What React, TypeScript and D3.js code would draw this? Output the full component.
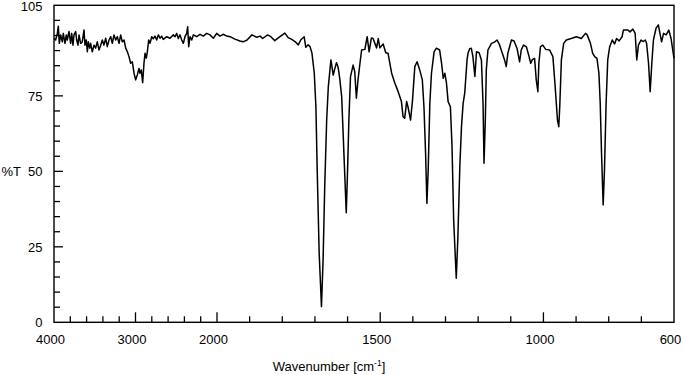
import React from "react";
import * as d3 from "d3";

// ---- Data: [wavenumber (cm-1), %T] ----
const stretchRegion: [number, number][] = [
  [4000, 94.0], [3980, 93.5], [3959, 95.7], [3947, 98.1], [3935, 92.4], [3918, 95.2], [3898, 92.9], [3886, 95.7],
  [3865, 92.4], [3849, 95.2], [3837, 93.5], [3816, 96.3], [3796, 92.4], [3783, 95.7], [3767, 91.8], [3755, 95.2],
  [3734, 96.3], [3722, 93.5], [3706, 91.8], [3693, 95.2], [3673, 92.4], [3653, 92.9], [3632, 96.8], [3620, 91.8],
  [3604, 93.5], [3591, 89.6], [3579, 92.9], [3562, 90.8], [3550, 92.4], [3530, 89.6], [3509, 91.8], [3489, 90.8],
  [3469, 92.9], [3448, 90.2], [3427, 91.8], [3407, 93.5], [3387, 91.8], [3366, 94.1], [3346, 91.3], [3325, 93.5],
  [3304, 94.6], [3284, 92.4], [3264, 95.2], [3243, 93.5], [3223, 94.6], [3202, 92.4], [3182, 95.2], [3162, 92.9],
  [3141, 93.5], [3120, 90.8], [3100, 89.6], [3080, 88.0], [3059, 85.8], [3039, 86.3], [3018, 82.5], [2998, 80.3],
  [2978, 81.9], [2957, 84.1], [2945, 82.5], [2929, 83.6], [2912, 79.4], [2896, 85.8], [2883, 89.1], [2867, 87.5],
  [2855, 89.6], [2838, 93.5], [2822, 92.4], [2801, 94.6], [2782, 93.9], [2761, 94.8], [2740, 93.5], [2720, 95.2],
  [2699, 94.1], [2679, 94.8], [2659, 93.7], [2617, 94.6], [2577, 94.1], [2536, 95.2], [2515, 94.6], [2494, 95.7],
  [2475, 94.0], [2454, 95.2], [2433, 93.5], [2413, 92.4], [2393, 94.6], [2372, 95.7], [2360, 97.9], [2347, 91.3],
  [2331, 94.6], [2310, 93.5], [2290, 95.2], [2249, 94.6], [2208, 95.4], [2168, 94.8], [2127, 95.7], [2086, 95.2],
  [2045, 94.1], [2004, 95.7],
];

const carbonylRegion: [number, number][] = [
  [1991, 94.8], [1981, 95.4], [1970, 94.8], [1960, 94.6], [1945, 93.8], [1930, 93.2], [1920, 92.9], [1908, 93.5],
  [1893, 95.2], [1878, 94.4], [1868, 94.8], [1860, 94.0], [1845, 95.2], [1835, 94.6], [1823, 93.3], [1807, 94.6],
  [1792, 95.8], [1782, 94.3], [1771, 93.7], [1761, 93.0], [1751, 91.9], [1743, 93.6], [1733, 94.6], [1728, 91.1],
  [1721, 91.9], [1715, 91.3], [1709, 89.1], [1702, 82.5], [1697, 71.4], [1693, 50.4], [1687, 22.9], [1680, 5.2],
  [1675, 20.6], [1670, 44.9], [1664, 67.0], [1659, 78.0], [1654, 83.6], [1651, 86.9], [1644, 81.9], [1640, 83.6],
  [1634, 86.0], [1629, 84.5], [1624, 80.8], [1618, 74.7], [1614, 63.7], [1608, 47.1], [1604, 36.3], [1600, 50.4],
  [1596, 67.0], [1591, 81.4], [1583, 85.2], [1578, 83.0], [1573, 74.2], [1568, 80.3], [1562, 85.8], [1557, 90.2],
  [1547, 90.4], [1540, 94.6], [1534, 89.6], [1527, 94.2], [1522, 94.0], [1511, 90.9], [1506, 94.0], [1501, 90.9],
];

const fingerprintRegion: [number, number][] = [
  [1491, 92.2], [1483, 89.3], [1476, 89.1], [1465, 82.5], [1455, 79.2], [1445, 76.4], [1435, 73.1], [1430, 68.1],
  [1425, 67.6], [1419, 73.1], [1415, 71.4], [1407, 67.0], [1401, 73.6], [1394, 84.7], [1387, 86.3], [1379, 83.6],
  [1371, 80.3], [1366, 71.4], [1361, 56.0], [1357, 39.4], [1353, 50.4], [1348, 72.5], [1343, 82.5], [1335, 89.6],
  [1328, 90.8], [1318, 90.2], [1312, 85.8], [1307, 80.8], [1302, 82.5], [1297, 79.2], [1292, 73.1], [1285, 71.4],
  [1280, 58.2], [1275, 33.9], [1267, 14.6], [1262, 28.4], [1256, 52.0], [1251, 64.8], [1246, 72.5], [1241, 76.0],
  [1234, 86.9], [1231, 89.1], [1226, 90.6], [1221, 90.8], [1216, 88.0], [1210, 81.4], [1205, 89.6], [1197, 89.3],
  [1190, 86.9], [1185, 72.5], [1182, 52.7], [1178, 67.0], [1175, 83.6], [1170, 90.2], [1159, 92.4], [1150, 92.8],
  [1142, 93.5], [1134, 91.8], [1126, 89.1], [1119, 86.9], [1114, 84.7], [1109, 89.1], [1098, 93.5], [1090, 93.2],
  [1081, 90.8], [1073, 86.3], [1068, 90.2], [1061, 91.8], [1052, 91.2], [1044, 88.0], [1039, 85.8], [1034, 87.0],
  [1027, 87.4], [1022, 80.3], [1017, 76.4], [1014, 85.8], [1009, 91.3], [1002, 91.8], [993, 90.4], [981, 90.2],
  [971, 88.0], [964, 78.0], [957, 67.0], [953, 64.8], [950, 71.4], [945, 86.9], [938, 92.4], [930, 93.5],
  [915, 94.0], [899, 94.6], [884, 94.0], [871, 95.7], [866, 95.2], [856, 92.4], [849, 89.1], [843, 88.0],
  [836, 87.4], [830, 82.5], [826, 72.5], [822, 56.0], [817, 38.9], [813, 50.4], [808, 72.5], [803, 86.9],
  [797, 91.3], [789, 93.5], [782, 92.2], [776, 94.0], [768, 93.2], [759, 94.6], [755, 96.8], [741, 96.8],
  [735, 96.2], [726, 97.1], [719, 95.7], [714, 86.9], [709, 91.8], [701, 93.5], [694, 93.0], [688, 93.5],
  [684, 92.4], [678, 85.8], [673, 76.4], [668, 85.8], [663, 93.5], [655, 97.4], [648, 98.5], [643, 95.7],
  [638, 92.9], [632, 95.7], [624, 95.2], [616, 96.8], [609, 94.0], [600, 87.4],
];

const xBreaks = [4000, 2000, 600];
const xLabelTicks = [4000, 3000, 2000, 1500, 1000, 600];
const xMajorTicks = [3000, 2000, 1500, 1000];
const xMinorTicks = [
  3800, 3600, 3400, 3200, 2800, 2600, 2400, 2200,
  1900, 1800, 1700, 1600, 1400, 1300, 1200, 1100, 900, 800, 700,
];
const yLabelTicks = [0, 25, 50, 75, 105];
const yMajorTicks = [25, 50, 75];
const yMinorTicks = [5, 10, 15, 20, 30, 35, 40, 45, 55, 60, 65, 70, 80, 85, 90, 95, 100];

const W = 683;
const H = 375;
const left = 54;
const right = 674;
const top = 5.3;
const bottom = 322.3;
const breakX = 217;

export default function App() {
  const x = d3.scaleLinear().domain(xBreaks).range([left, breakX, right]);
  const y = d3.scaleLinear().domain([0, 105]).range([bottom, top]);
  const data = [...stretchRegion, ...carbonylRegion, ...fingerprintRegion];
  const line = d3
    .line<[number, number]>()
    .x((d) => x(d[0]))
    .y((d) => y(d[1]))
    .curve(d3.curveLinear);
  const font = "'Liberation Sans', Arial, Helvetica, sans-serif";

  return (
    <svg
      width={W}
      height={H}
      style={{ position: "absolute", left: 0, top: 0, background: "#fff" }}
      fontFamily={font}
    >
      <rect x={0} y={0} width={W} height={H} fill="#fff" />
      <path d={line(data) || ""} fill="none" stroke="#000" strokeWidth={1.5} strokeLinejoin="round" />
      <rect
        x={left}
        y={top}
        width={right - left}
        height={bottom - top}
        fill="none"
        stroke="#000"
        strokeWidth={1.4}
      />
      {xMinorTicks.map((t) => (
        <line key={"xm" + t} x1={x(t)} x2={x(t)} y1={bottom} y2={bottom - 6} stroke="#000" strokeWidth={1.3} />
      ))}
      {xMajorTicks.map((t) => (
        <line key={"xM" + t} x1={x(t)} x2={x(t)} y1={bottom} y2={bottom - 10} stroke="#000" strokeWidth={1.3} />
      ))}
      {yMinorTicks.map((t) => (
        <line key={"ym" + t} x1={left} x2={left + 6} y1={y(t)} y2={y(t)} stroke="#000" strokeWidth={1.3} />
      ))}
      {yMajorTicks.map((t) => (
        <line key={"yM" + t} x1={left} x2={left + 9} y1={y(t)} y2={y(t)} stroke="#000" strokeWidth={1.3} />
      ))}
      {xLabelTicks.map((t) => (
        <text key={"xl" + t} x={x(t) - 3.5} y={344} fontSize={13} textAnchor="middle" fill="#000">
          {t}
        </text>
      ))}
      {yLabelTicks.map((t) => (
        <text
          key={"yl" + t}
          x={42.5}
          y={Math.max(y(t), 6.5)}
          dy="0.36em"
          fontSize={13}
          textAnchor="end"
          fill="#000"
        >
          {t}
        </text>
      ))}
      <text x={1.5} y={y(50)} dy="0.36em" fontSize={13} fill="#000">
        %T
      </text>
      <text x={329} y={371} fontSize={13} textAnchor="middle" fill="#000">
        Wavenumber [cm
        <tspan fontSize={8.5} dy={-5}>-1</tspan>
        <tspan dy={5}>]</tspan>
      </text>
    </svg>
  );
}
